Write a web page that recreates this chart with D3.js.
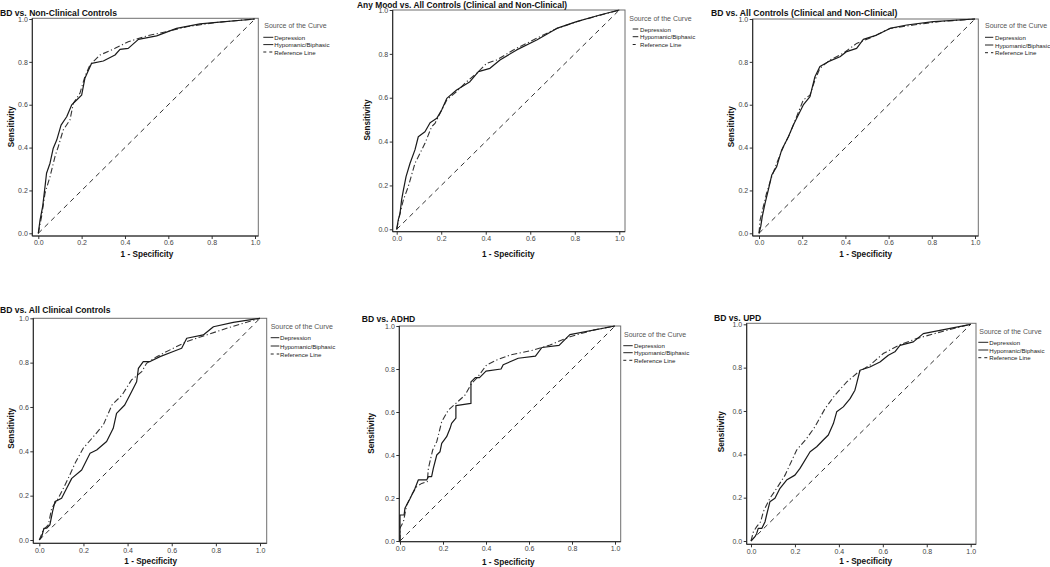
<!DOCTYPE html>
<html><head><meta charset="utf-8">
<script src="https://cdn.jsdelivr.net/npm/d3@7"></script>
<style>
html,body{margin:0;padding:0;background:#fff;}
svg{display:block;font-family:"Liberation Sans",Arial,sans-serif;}
</style></head><body>
<svg id="chart" width="1050" height="567"></svg>
<script>
// ---------- data ----------
const titles = [
  "BD vs. Non-Clinical Controls",
  "Any Mood vs. All Controls (Clinical and Non-Clinical)",
  "BD vs. All Controls (Clinical and Non-Clinical)",
  "BD vs. All Clinical Controls",
  "BD vs. ADHD",
  "BD vs. UPD"
];
const legendTitle = "Source of the Curve";
const seriesNames = ["Depression", "Hypomanic/Biphasic", "Reference Line"];
const tickValues = [0, 0.2, 0.4, 0.6, 0.8, 1.0];
const xAxisTitle = "1 - Specificity";
const yAxisTitle = "Sensitivity";
const referenceLine = [[0, 0], [1, 1]];

const nonClinicalDepression = [[0,0],[0.008,0.062],[0.02,0.124],[0.031,0.218],[0.038,0.28],[0.054,0.327],[0.069,0.397],[0.085,0.435],[0.105,0.505],[0.131,0.544],[0.154,0.599],[0.177,0.622],[0.2,0.645],[0.215,0.723],[0.246,0.793],[0.3,0.804],[0.354,0.832],[0.377,0.858],[0.415,0.863],[0.462,0.905],[0.546,0.921],[0.638,0.956],[0.746,0.977],[0.823,0.984],[1,1]];
const nonClinicalHypomanic = [[0,0],[0.015,0.078],[0.031,0.187],[0.054,0.264],[0.077,0.358],[0.092,0.404],[0.115,0.482],[0.146,0.529],[0.162,0.607],[0.192,0.653],[0.215,0.731],[0.238,0.785],[0.285,0.832],[0.354,0.863],[0.415,0.894],[0.5,0.921],[0.592,0.941],[0.685,0.964],[0.823,0.984],[1,1]];

const anyMoodDepression = [[0,0],[0.007,0.043],[0.015,0.073],[0.022,0.134],[0.03,0.179],[0.042,0.24],[0.06,0.301],[0.082,0.362],[0.097,0.422],[0.127,0.445],[0.15,0.486],[0.18,0.506],[0.202,0.544],[0.225,0.597],[0.269,0.635],[0.329,0.673],[0.367,0.719],[0.419,0.734],[0.464,0.772],[0.539,0.818],[0.629,0.863],[0.719,0.916],[0.808,0.947],[0.913,0.977],[1,1]];
const anyMoodHypomanic = [[0,0],[0.015,0.073],[0.03,0.134],[0.052,0.195],[0.082,0.301],[0.105,0.347],[0.127,0.392],[0.157,0.468],[0.172,0.483],[0.195,0.529],[0.225,0.59],[0.269,0.628],[0.314,0.673],[0.359,0.711],[0.404,0.757],[0.449,0.772],[0.524,0.818],[0.629,0.871],[0.719,0.916],[0.823,0.951],[1,1]];

const allControlsDepression = [[0,0],[0.008,0.031],[0.015,0.078],[0.028,0.14],[0.043,0.202],[0.059,0.272],[0.082,0.311],[0.105,0.389],[0.136,0.451],[0.159,0.505],[0.182,0.552],[0.205,0.599],[0.236,0.638],[0.259,0.731],[0.282,0.778],[0.321,0.801],[0.375,0.824],[0.406,0.848],[0.452,0.863],[0.483,0.905],[0.545,0.925],[0.606,0.956],[0.684,0.972],[0.807,0.988],[1,1]];
const allControlsHypomanic = [[0,0],[0.005,0.062],[0.02,0.124],[0.035,0.187],[0.059,0.264],[0.082,0.327],[0.113,0.404],[0.144,0.467],[0.174,0.544],[0.205,0.622],[0.236,0.645],[0.259,0.715],[0.282,0.77],[0.329,0.809],[0.39,0.84],[0.452,0.886],[0.529,0.918],[0.606,0.956],[0.715,0.972],[0.838,0.988],[1,1]];

const clinicalDepression = [[0,0],[0.011,0.015],[0.021,0.053],[0.033,0.053],[0.048,0.068],[0.06,0.128],[0.071,0.173],[0.101,0.188],[0.124,0.233],[0.147,0.278],[0.192,0.316],[0.23,0.391],[0.26,0.406],[0.305,0.444],[0.335,0.504],[0.35,0.571],[0.387,0.609],[0.418,0.669],[0.441,0.714],[0.449,0.774],[0.471,0.805],[0.502,0.805],[0.547,0.827],[0.607,0.85],[0.645,0.865],[0.668,0.91],[0.743,0.925],[0.789,0.962],[0.879,0.982],[1,1]];
const clinicalHypomanic = [[0,0],[0.018,0.045],[0.041,0.068],[0.056,0.143],[0.086,0.188],[0.109,0.233],[0.131,0.278],[0.162,0.346],[0.199,0.414],[0.245,0.466],[0.29,0.519],[0.329,0.609],[0.375,0.654],[0.418,0.722],[0.464,0.759],[0.486,0.797],[0.532,0.827],[0.607,0.865],[0.668,0.895],[0.758,0.925],[0.849,0.955],[1,1]];

const adhdDepression = [[0,0],[0,0.121],[0.019,0.121],[0.023,0.152],[0.047,0.198],[0.07,0.245],[0.085,0.284],[0.124,0.284],[0.132,0.299],[0.147,0.299],[0.155,0.338],[0.171,0.4],[0.186,0.415],[0.194,0.454],[0.217,0.485],[0.233,0.524],[0.24,0.547],[0.26,0.571],[0.26,0.63],[0.33,0.64],[0.33,0.74],[0.35,0.76],[0.37,0.76],[0.4,0.79],[0.47,0.8],[0.48,0.82],[0.55,0.85],[0.63,0.86],[0.66,0.9],[0.74,0.91],[0.79,0.96],[1,1]];
const adhdHypomanic = [[0,0],[0,0.06],[0.016,0.09],[0.031,0.167],[0.054,0.214],[0.078,0.253],[0.101,0.268],[0.127,0.276],[0.132,0.338],[0.152,0.423],[0.171,0.462],[0.194,0.555],[0.225,0.609],[0.26,0.64],[0.302,0.678],[0.333,0.733],[0.357,0.757],[0.403,0.819],[0.45,0.842],[0.512,0.865],[0.62,0.888],[0.698,0.912],[0.791,0.95],[0.899,0.981],[1,1]];

const updDepression = [[0,0],[0.018,0.02],[0.026,0.035],[0.033,0.058],[0.049,0.058],[0.064,0.089],[0.071,0.12],[0.086,0.181],[0.109,0.197],[0.132,0.243],[0.162,0.281],[0.2,0.304],[0.223,0.335],[0.269,0.412],[0.299,0.435],[0.329,0.466],[0.352,0.489],[0.375,0.542],[0.39,0.596],[0.42,0.619],[0.451,0.657],[0.473,0.696],[0.481,0.727],[0.496,0.788],[0.541,0.803],[0.587,0.826],[0.625,0.857],[0.655,0.873],[0.678,0.903],[0.739,0.919],[0.784,0.957],[0.86,0.972],[1,1]];
const updHypomanic = [[0,0],[0.011,0.043],[0.026,0.066],[0.044,0.089],[0.056,0.135],[0.086,0.197],[0.117,0.243],[0.155,0.304],[0.208,0.42],[0.253,0.473],[0.291,0.527],[0.337,0.611],[0.382,0.673],[0.436,0.734],[0.489,0.78],[0.541,0.811],[0.602,0.865],[0.678,0.906],[0.754,0.934],[0.875,0.968],[1,1]];

const depressionSeries = [nonClinicalDepression, anyMoodDepression, allControlsDepression, clinicalDepression, adhdDepression, updDepression];
const hypomanicSeries = [nonClinicalHypomanic, anyMoodHypomanic, allControlsHypomanic, clinicalHypomanic, adhdHypomanic, updHypomanic];

// ---------- layout (pixel geometry only) ----------
const layout = [
  {frame:[32.3,18.3,258.3,236], xr:[38.3,255], yr:[233.3,19], title:[0,15.5], ylab:[11.7,126.7], xlab:[147,254.3],
   leg:{hx:264.3, hy:25.7, iy:[37.3,44.6,52], lx:[263.3,273.3], tx:274.3}},
  {frame:[392.7,10,625,231.7], xr:[396.7,619.3], yr:[229.3,10], title:[357,7.6], ylab:[367.3,120], xlab:[508.3,254],
   leg:{hx:629.3, hy:18.3, iy:[29,36.7,44.5], lx:[632.7,638.3], tx:640}},
  {frame:[752.7,19,978.3,236], xr:[759,975], yr:[233.3,19], title:[711,15.5], ylab:[731.7,126.7], xlab:[865.7,254.3],
   leg:{hx:985, hy:25.7, iy:[37.3,45,52.7], lx:[985,993.3], tx:995}},
  {frame:[33.3,318.3,266.7,543.3], xr:[39.3,260], yr:[540,318.3], title:[0,313.3], ylab:[11.7,428.3], xlab:[150.7,561.7],
   leg:{hx:270.7, hy:326.7, iy:[337.7,346,354], lx:[270.7,279.3], tx:280}},
  {frame:[399.3,326,620.7,541.7], xr:[400,615], yr:[541,326], title:[361.7,321.8], ylab:[371.7,433.3], xlab:[508.3,562.3],
   leg:{hx:624, hy:334, iy:[345.7,352.7,360.3], lx:[623.3,632.7], tx:634}},
  {frame:[746.7,323.3,976,544.3], xr:[751,970.7], yr:[541,324.3], title:[714,320.5], ylab:[721.7,431.7], xlab:[865.7,561.7],
   leg:{hx:979.3, hy:331.7, iy:[342.3,350,357.7], lx:[978.3,988.3], tx:989.3}}
];
const titleSizes = [8.6, 8.4, 8.6, 8.6, 8.6, 8.6];

const dashDot = "6,2.5,1.2,2.5";
const dashed = "5,4";

const svg = d3.select("#chart");

layout.forEach((L, i) => {
  const g = svg.append("g");
  const x = d3.scaleLinear().domain([0, 1]).range(L.xr);
  const y = d3.scaleLinear().domain([0, 1]).range(L.yr);
  const [fx0, fy0, fx1, fy1] = L.frame;

  // frame
  g.append("rect").attr("x", fx0).attr("y", fy0).attr("width", fx1 - fx0).attr("height", fy1 - fy0)
    .attr("fill", "none").attr("stroke", "#6e6e6e").attr("stroke-width", 1);

  // axes
  const fmt = d3.format(".1f");
  const ya = g.append("g").attr("transform", `translate(${fx0},0)`)
    .call(d3.axisLeft(y).tickValues(tickValues).tickFormat(fmt).tickSize(3).tickPadding(1.5));
  const xa = g.append("g").attr("transform", `translate(0,${fy1})`)
    .call(d3.axisBottom(x).tickValues(tickValues).tickFormat(fmt).tickSize(3).tickPadding(1.5));
  [ya, xa].forEach(a => {
    a.select(".domain").remove();
    a.selectAll(".tick line").attr("stroke", "#333");
    a.selectAll("text").attr("font-size", 7).attr("fill", "#444")
      .attr("font-family", '"Liberation Sans",Arial,sans-serif');
  });
  // darker left / bottom axis lines
  g.append("line").attr("x1", fx0).attr("x2", fx0).attr("y1", fy0).attr("y2", fy1).attr("stroke", "#222");
  g.append("line").attr("x1", fx0).attr("x2", fx1).attr("y1", fy1).attr("y2", fy1).attr("stroke", "#222");

  const line = d3.line().x(d => x(d[0])).y(d => y(d[1]));

  g.append("path").datum(referenceLine).attr("d", line)
    .attr("fill", "none").attr("stroke", "#333").attr("stroke-width", 1).attr("stroke-dasharray", dashed);
  g.append("path").datum(hypomanicSeries[i]).attr("d", line)
    .attr("fill", "none").attr("stroke", "#333").attr("stroke-width", 1.1).attr("stroke-dasharray", dashDot);
  g.append("path").datum(depressionSeries[i]).attr("d", line)
    .attr("fill", "none").attr("stroke", "#1a1a1a").attr("stroke-width", 1.2).attr("stroke-linejoin", "round");

  // title
  g.append("text").attr("x", L.title[0]).attr("y", L.title[1]).text(titles[i])
    .attr("font-size", titleSizes[i]).attr("font-weight", "bold").attr("fill", "#111");

  // axis titles
  g.append("text").attr("transform", `translate(${L.ylab[0]},${L.ylab[1]}) rotate(-90)`)
    .attr("text-anchor", "middle").attr("dominant-baseline", "central")
    .attr("font-size", 8.2).attr("font-weight", "bold").attr("fill", "#111").text(yAxisTitle);
  g.append("text").attr("x", L.xlab[0]).attr("y", L.xlab[1])
    .attr("text-anchor", "middle").attr("dominant-baseline", "central")
    .attr("font-size", 8.2).attr("font-weight", "bold").attr("fill", "#111").text(xAxisTitle);

  // legend
  const lg = L.leg;
  g.append("text").attr("x", lg.hx).attr("y", lg.hy).attr("dominant-baseline", "central")
    .attr("font-size", 7).attr("fill", "#555").text(legendTitle);
  seriesNames.forEach((name, k) => {
    g.append("line").attr("x1", lg.lx[0]).attr("x2", lg.lx[1]).attr("y1", lg.iy[k]).attr("y2", lg.iy[k])
      .attr("stroke", "#222").attr("stroke-width", 1)
      .attr("stroke-dasharray", k === 2 ? "3,3" : null);
    g.append("text").attr("x", lg.tx).attr("y", lg.iy[k]).attr("dominant-baseline", "central")
      .attr("font-size", 6.1).attr("fill", "#222").text(name);
  });
});
</script>
</body></html>
